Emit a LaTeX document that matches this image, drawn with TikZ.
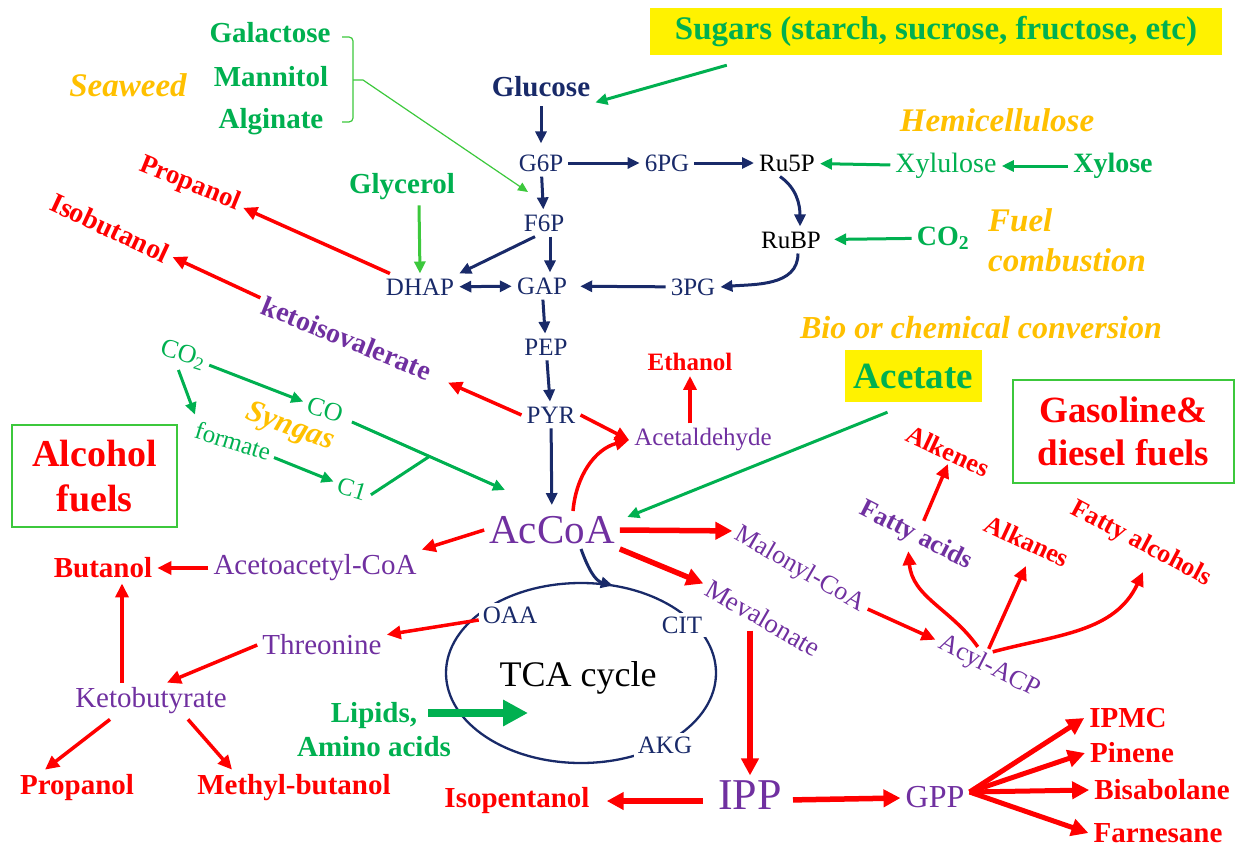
\documentclass[tikz,border=0pt]{standalone}
\usepackage{fontspec}
\setmainfont{Liberation Serif}
\usepackage{tikz}
\usetikzlibrary{arrows.meta,positioning,shapes.geometric,calc}

\definecolor{navyc}{RGB}{25,42,105}
\definecolor{grn}{RGB}{0,176,80}
\definecolor{lgrn}{RGB}{60,200,60}
\definecolor{purp}{RGB}{112,48,160}
\definecolor{orng}{RGB}{255,192,0}
\definecolor{redc}{RGB}{255,0,0}

\newcommand{\fsz}[1]{\fontsize{#1}{#1}\selectfont}

\tikzset{
>={Triangle[length=12pt,width=11pt]},
  navyline/.style={draw=navyc, line width=3pt, ->},
  redline/.style={draw=redc, line width=3.5pt, -{Triangle[length=14pt,width=13pt]}},
  redthick/.style={draw=redc, line width=5.5pt, -{Triangle[length=17pt,width=17pt]}},
  greenline/.style={draw=grn, line width=3pt, ->},
  lightline/.style={draw=lgrn, line width=1.2pt, -{Triangle[length=10pt,width=9pt]}},
}

\begin{document}
\begin{tikzpicture}
[x=1pt, y=-1pt,
lbl/.style={inner sep=5pt},
navylbl/.style={lbl, text=navyc, font=\fsz{25}},
navybold/.style={lbl, text=navyc, font=\bfseries\fsz{29}},
blacklbl/.style={lbl, text=black, font=\fsz{25}},
greenlbl/.style={lbl, text=grn, font=\fsz{26}},
greenbold/.style={lbl, text=grn, font=\bfseries\fsz{29}},
sourcelbl/.style={lbl, text=orng, font=\bfseries\itshape\fsz{33}},
fuellbl/.style={lbl, text=redc, font=\bfseries\fsz{29}},
interlbl/.style={lbl, text=purp, font=\fsz{29}},
interbold/.style={lbl, text=purp, font=\bfseries\fsz{28}},
yellowbox/.style={fill=yellow, text=grn, inner sep=0pt},
fuelbox/.style={draw=lgrn, line width=1.2pt, text=redc, align=center, inner sep=0pt},
]
\useasboundingbox (0,0) rectangle (1238,856);

%Nodes
\node[greenbold] (galactose) at (270,33) {Galactose};
\node[greenbold] (mannitol) at (271,77) {Mannitol};
\node[greenbold] (alginate) at (271,122) {Alginate};
\node[sourcelbl] (seaweed) at (128,85) {Seaweed};
\node[yellowbox, minimum width=572pt, minimum height=47pt, font=\bfseries\fsz{33}] (sugars) at (936,31.5) {Sugars (starch, sucrose, fructose, etc)};

\node[navybold] (glucose) at (541,87) {Glucose};
\node[navylbl] (g6p) at (541,163) {G6P};
\node[navylbl] (sixpg) at (667,163) {6PG};
\node[blacklbl] (ru5p) at (787,163) {Ru5P};
\node[blacklbl] (rubp) at (791,240) {RuBP};
\node[navylbl] (f6p) at (544,223) {F6P};
\node[navylbl] (dhap) at (420,287) {DHAP};
\node[navylbl] (gap) at (542,286) {GAP};
\node[navylbl] (pg3) at (693,287) {3PG};
\node[navylbl] (pep) at (546,347) {PEP};
\node[navylbl] (pyr) at (551,415) {PYR};

\node[sourcelbl] (hemi) at (997,120) {Hemicellulose};
\node[greenlbl, font=\fsz{28}] (xylulose) at (946,166) {Xylulose};
\node[greenbold, font=\bfseries\fsz{28}] (xylose) at (1113,166) {Xylose};
\node[greenbold, font=\bfseries\fsz{28}] (co2r) at (943,238) {CO\textsubscript{2}};
\node[text=orng, font=\bfseries\itshape\fontsize{33}{40}\selectfont, anchor=west, align=left, inner sep=0pt] (fuel) at (988,240) {Fuel\\combustion};
\node[greenbold] (glycerol) at (402,187) {Glycerol};

\node[fuellbl, rotate=-22, font=\bfseries\fsz{27}] (propanolA) at (190,184) {Propanol};
\node[fuellbl, rotate=-25, font=\bfseries\fsz{28}] (isobutanol) at (110,228) {Isobutanol};
\node[interbold, rotate=-22] (kiv) at (347,338) {ketoisovalerate};

\node[greenlbl, rotate=-17] (co2s) at (183,355) {CO\textsubscript{2}};
\node[greenlbl, rotate=-17] (co) at (325,410) {CO};
\node[greenlbl, rotate=-17, font=\fsz{25}] (formate) at (233,441) {formate};
\node[sourcelbl, rotate=-20, font=\bfseries\itshape\fsz{31}] (syngas) at (290,428) {Syngas};
\node[greenlbl, rotate=-17, font=\fsz{25}] (c1) at (352,489) {C1};
\node[fuelbox, minimum width=165pt, minimum height=102pt, font=\bfseries\fontsize{38}{45}\selectfont] (alcohol) at (94.5,476) {Alcohol\\fuels};

\node[interlbl, font=\fsz{25}] (acetald) at (703,440) {Acetaldehyde};
\node[fuellbl, font=\bfseries\fsz{25}] (ethanol) at (690,362) {Ethanol};
\node[interlbl, font=\fsz{41}] (accoa) at (552,530) {AcCoA};
\node[sourcelbl, font=\bfseries\itshape\fsz{32}] (bioconv) at (981,328) {Bio or chemical conversion};
\node[yellowbox, minimum width=137pt, minimum height=52pt, font=\bfseries\fsz{37}] (acetate) at (913.5,376) {Acetate};
\node[fuelbox, minimum width=221pt, minimum height=103pt, font=\bfseries\fontsize{37}{43}\selectfont] (gasoline) at (1123.5,431.5) {Gasoline\&\\diesel fuels};

\node[interlbl] (acetoacetyl) at (315,568) {Acetoacetyl-CoA};
\node[fuellbl] (butanol) at (103,568) {Butanol};
\node[interlbl] (threonine) at (322,645) {Threonine};
\node[interlbl] (ketobut) at (151,701) {Ketobutyrate};
\node[fuellbl] (propanolB) at (77,788) {Propanol};
\node[fuellbl] (methylbut) at (294,788) {Methyl-butanol};
\node[text=grn, font=\bfseries\fontsize{29}{34}\selectfont, align=center, inner sep=0pt] (lipids) at (374,730) {Lipids,\\Amino acids};

\node[ellipse, draw=navyc, line width=2.3pt, minimum width=270pt, minimum height=180pt, outer sep=0pt] (tca) at (581,673) {};
\node[lbl, text=black, font=\fsz{36}] (tcatext) at (578,678) {TCA cycle};
\node[navylbl, fill=white, inner sep=4pt] (oaa) at (510,615) {OAA};
\node[navylbl, fill=white, inner sep=4pt] (cit) at (682,625) {CIT};
\node[navylbl, fill=white, inner sep=4pt] (akg) at (665,745) {AKG};

\node[interlbl, rotate=-30, font=\fsz{26}] (malonyl) at (800,570) {Malonyl-CoA};
\node[interlbl, rotate=-30, font=\fsz{27}] (mevalonate) at (763,618) {Mevalonate};
\node[interlbl, rotate=-27, font=\fsz{26}] (acyl) at (989,667) {Acyl-ACP};
\node[interbold, rotate=-27, font=\bfseries\fsz{26}] (fattyacids) at (916,536) {Fatty acids};
\node[fuellbl, rotate=-25, font=\bfseries\fsz{26}] (alkenes) at (948,451) {Alkenes};
\node[fuellbl, rotate=-25, font=\bfseries\fsz{26}] (alkanes) at (1027,541) {Alkanes};
\node[fuellbl, rotate=-28, font=\bfseries\fsz{26}] (fattyalc) at (1141,544) {Fatty alcohols};

\node[interlbl, font=\fsz{44}] (ipp) at (750,795) {IPP};
\node[fuellbl] (isopent) at (517,801) {Isopentanol};
\node[interlbl, font=\fsz{32}] (gpp) at (935,797) {GPP};
\node[fuellbl] (ipmc) at (1128,718) {IPMC};
\node[fuellbl] (pinene) at (1132,753) {Pinene};
\node[fuellbl] (bisabolane) at (1162,790) {Bisabolane};
\node[fuellbl] (farnesane) at (1158,833) {Farnesane};

\coordinate (brk) at (353,80);
\coordinate (swin) at (528,192);
\coordinate (synend) at (505,490);
\coordinate (synjoin) at ($(co)!0.58!(synend)$);
\coordinate (lipin) at (528,713);

%Lines
\draw[draw=lgrn, line width=1.2pt, rounded corners=4pt] (342,37) -- (353,37) -- (353,122) -- (342,122);
\draw[lightline] (brk) -- ++(10,0) -- (swin);
\draw[greenline] ([xshift=77pt,yshift=-10pt]sugars.south west) -- (glucose.south east);
\draw[navyline, shorten <=4pt, shorten >=6pt] (glucose) -- (g6p);
\draw[navyline] (g6p) -- (sixpg);
\draw[navyline] (sixpg) -- (ru5p);
\draw[navyline] ([xshift=-7pt]ru5p.south) to[out=-35,in=90] ([xshift=9pt]rubp.north);
\draw[navyline] ([xshift=7pt]rubp.south) to[out=-90,in=5] (pg3.east);
\draw[navyline, shorten >=8pt] (pg3) -- (gap);
\draw[navyline] (g6p) -- (f6p);
\draw[navyline] ([xshift=6pt]f6p.south) -- ([xshift=8pt]gap.north);
\draw[navyline] ([xshift=-9pt]f6p.south) -- (dhap.north east);
\draw[navyline, <->] (dhap) -- (gap);
\draw[navyline] (gap) -- (pep);
\draw[navyline] (pep) -- (pyr);
\draw[navyline, shorten >=6pt] (pyr) -- (accoa);
\draw[navyline] ([xshift=29pt]accoa.south) to[out=-70,in=165] (tca.70);

\draw[greenline] (xylulose) -- (ru5p);
\draw[greenline] (xylose) -- (xylulose);
\draw[greenline, shorten >=8pt] (co2r) -- (rubp);
\draw[draw=lgrn, line width=3pt, ->] ([xshift=17pt]glycerol.south) -- (dhap.north);
\draw[greenline] (co2s) -- (co);
\draw[greenline] (co2s.south) -- (formate.north west);
\draw[greenline] (formate) -- (c1);
\draw[greenline, shorten <=6pt] (co) -- (synend);
\draw[draw=grn, line width=3pt] (c1.east) -- (synjoin);
\draw[greenline, shorten >=8pt] ([xshift=-26pt,yshift=-10pt]acetate.south) -- ([yshift=10pt]accoa.east);
\draw[draw=grn, line width=8pt, -{Triangle[length=25pt,width=25pt]}] ([xshift=-23pt,yshift=17pt]lipids.east) -- (lipin);

\draw[redline] (dhap) -- (propanolA);
\draw[redline] (kiv) -- (isobutanol);
\draw[redline, shorten >=15pt] (pyr.west) -- (kiv);
\draw[redline] (pyr.east) -- (acetald.west);
\draw[redline] (acetald.north -| ethanol.south) -- (ethanol.south);
\draw[redline] ([xshift=21pt]accoa.north) to[out=85,in=195] (acetald.west);
\draw[redline] (accoa.west) -- (acetoacetyl.north east);
\draw[redline] (acetoacetyl) -- (butanol);
\draw[redline] (oaa) -- (threonine);
\draw[redline] (threonine.west) -- ([xshift=16pt]ketobut.north);
\draw[redline] ([xshift=-29pt]ketobut.north) -- ([xshift=19pt]butanol.south);
\draw[redline] ([xshift=-41pt]ketobut.south) -- ([xshift=-32pt]propanolB.north);
\draw[redline] ([xshift=37pt]ketobut.south) -- ([xshift=-62pt]methylbut.north);

\draw[redthick] (accoa.east) -- (malonyl.west);
\draw[redthick] (accoa.south east) -- (mevalonate.west);
\draw[redthick] (mevalonate.south -| ipp.north) -- (ipp.north);
\draw[redthick, shorten <=10pt, shorten >=12pt] ([yshift=-6pt]ipp.west) -- (isopent.east);
\draw[redthick, shorten <=6pt] ([yshift=-5pt]ipp.east) -- ([yshift=-1pt]gpp.west);
\foreach \fuel in {ipmc,pinene,bisabolane,farnesane}
  \draw[redthick, line width=5pt] ([yshift=5pt]gpp.east) -- (\fuel.west);

\draw[redline] (malonyl.east) -- (acyl.west);
\draw[redline] ([xshift=-19pt,yshift=5pt]acyl.north) to[out=125,in=-85] (fattyacids.south);
\draw[redline] ([xshift=-8pt,yshift=3pt]acyl.north) -- ([xshift=5pt,yshift=-12pt]alkanes.south);
\draw[redline] ([xshift=-4pt]acyl.north) to[out=15,in=-115] ([xshift=10pt,yshift=-13pt]fattyalc.south);
\draw[redline] (fattyacids.north) -- ([xshift=6pt]alkenes.south);

\end{tikzpicture}
\end{document}
